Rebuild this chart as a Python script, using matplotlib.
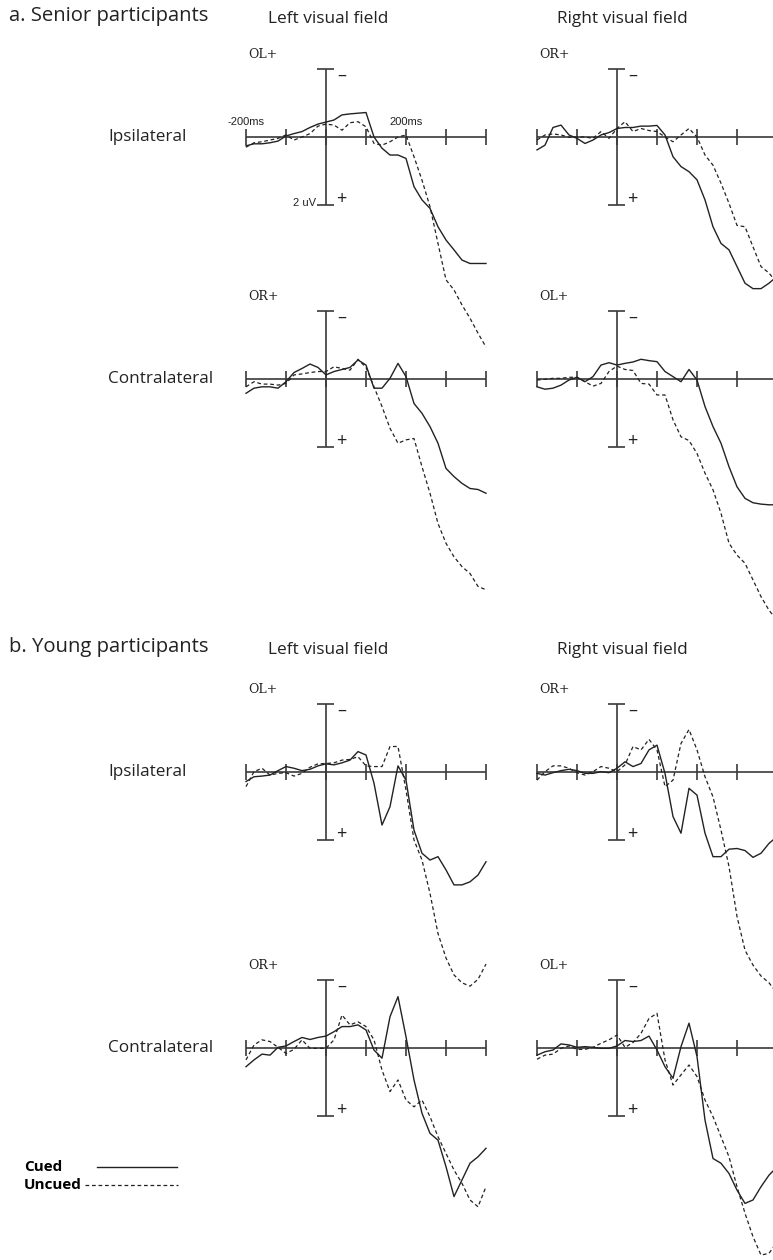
import numpy as np
import matplotlib
matplotlib.use("Agg")
import matplotlib.pyplot as plt
from matplotlib.lines import Line2D

#---- Data (µV, positive = downward, sampled every 20 ms) --------------------#

time_ms = np.arange(-200, 401, 20)
ticks_ms = [-200, -100, 0, 100, 200, 300, 400]

# Senior participants
sen_ipsi_left_cued = [0.26, 0.20, 0.20, 0.17, 0.12, -0.03, -0.10, -0.16, -0.28, -0.38, -0.44,
                      -0.50, -0.65, -0.68, -0.70, -0.72, 0.00, 0.33, 0.53, 0.53, 0.63,
                      1.46, 1.85, 2.10, 2.64, 3.03, 3.32, 3.62, 3.72, 3.72, 3.72]
sen_ipsi_left_uncued = [0.30, 0.17, 0.14, 0.09, 0.04, -0.06, 0.09, 0.00, -0.10, -0.32, -0.38,
                        -0.35, -0.20, -0.42, -0.45, -0.30, 0.19, 0.24, 0.14, 0.00, -0.06,
                        0.58, 1.27, 2.05, 3.13, 4.20, 4.50, 4.94, 5.33, 5.77, 6.18]
sen_ipsi_right_cued = [0.38, 0.24, -0.28, -0.35, -0.06, 0.04, 0.19, 0.09, -0.06, -0.13, -0.25,
                       -0.28, -0.28, -0.32, -0.32, -0.34, -0.06, 0.58, 0.87, 1.02, 1.26,
                       1.85, 2.64, 3.13, 3.32, 3.81, 4.30, 4.46, 4.46, 4.30, 4.10]
sen_ipsi_right_uncued = [0.09, -0.06, -0.09, -0.06, 0.01, 0.00, 0.00, 0.04, -0.16, 0.04, -0.25,
                         -0.45, -0.16, -0.25, -0.19, -0.16, 0.00, 0.14, -0.06, -0.25, 0.00,
                         0.53, 0.83, 1.36, 1.95, 2.60, 2.64, 3.23, 3.81, 4.00, 4.30]
sen_contra_left_cued = [0.42, 0.27, 0.23, 0.23, 0.27, 0.08, -0.19, -0.31, -0.44, -0.34, -0.12,
                        -0.22, -0.28, -0.34, -0.56, -0.41, 0.27, 0.27, -0.02, -0.46, -0.07,
                        0.72, 1.01, 1.40, 1.89, 2.63, 2.87, 3.07, 3.22, 3.25, 3.36]
sen_contra_left_uncued = [0.23, 0.08, 0.15, 0.15, 0.18, 0.13, -0.12, -0.15, -0.19, -0.22, -0.22,
                          -0.36, -0.31, -0.26, -0.58, -0.34, 0.23, 0.81, 1.45, 1.89, 1.79,
                          1.75, 2.58, 3.36, 4.25, 4.83, 5.23, 5.52, 5.72, 6.10, 6.20]
sen_contra_right_cued = [0.23, 0.30, 0.27, 0.18, 0.03, -0.05, 0.08, -0.07, -0.41, -0.48, -0.41,
                         -0.46, -0.50, -0.58, -0.54, -0.51, -0.22, -0.07, 0.08, -0.28, 0.03,
                         0.81, 1.40, 1.89, 2.58, 3.17, 3.51, 3.64, 3.68, 3.70, 3.70]
sen_contra_right_uncued = [0.03, 0.01, -0.02, -0.02, -0.05, -0.05, 0.08, 0.21, 0.13, -0.22, -0.38,
                           -0.28, -0.25, 0.13, 0.15, 0.47, 0.47, 1.20, 1.70, 1.81, 2.19,
                           2.77, 3.26, 3.95, 4.83, 5.18, 5.42, 5.91, 6.40, 6.80, 7.10]

# Young participants
yng_ipsi_left_cued = [0.28, 0.14, 0.12, 0.09, -0.04, -0.16, -0.11, -0.04, -0.08, -0.18, -0.24,
                      -0.21, -0.27, -0.35, -0.60, -0.50, 0.33, 1.56, 1.02, -0.18, 0.24,
                      1.71, 2.39, 2.59, 2.49, 2.88, 3.32, 3.32, 3.23, 3.03, 2.64]
yng_ipsi_left_uncued = [0.43, -0.01, -0.11, 0.09, 0.04, 0.02, 0.12, 0.04, -0.14, -0.24, -0.25,
                        -0.27, -0.35, -0.37, -0.45, -0.18, -0.16, -0.16, -0.75, -0.75, 0.53,
                        2.00, 2.59, 3.57, 4.75, 5.47, 5.97, 6.20, 6.30, 6.10, 5.65]
yng_ipsi_right_cued = [0.04, 0.09, 0.02, -0.04, -0.08, -0.04, 0.04, 0.04, -0.01, 0.02, -0.11,
                       -0.30, -0.16, -0.25, -0.65, -0.79, 0.04, 1.31, 1.80, 0.48, 0.68,
                       1.80, 2.49, 2.49, 2.27, 2.25, 2.31, 2.51, 2.39, 2.10, 1.90]
yng_ipsi_right_uncued = [0.24, -0.01, -0.18, -0.18, -0.11, 0.02, 0.09, -0.01, -0.16, -0.11, -0.01,
                         -0.21, -0.75, -0.65, -0.96, -0.65, 0.43, 0.24, -0.84, -1.25, -0.65,
                         0.14, 0.73, 1.71, 2.78, 4.25, 5.24, 5.68, 6.00, 6.20, 6.50]
yng_contra_left_cued = [0.55, 0.35, 0.18, 0.21, -0.02, -0.06, -0.19, -0.31, -0.25, -0.31, -0.35,
                        -0.48, -0.63, -0.63, -0.68, -0.53, 0.06, 0.30, -0.92, -1.51, -0.33,
                        0.94, 1.92, 2.51, 2.71, 3.49, 4.37, 3.88, 3.39, 3.20, 2.95]
yng_contra_left_uncued = [0.35, -0.09, -0.24, -0.19, -0.02, 0.16, 0.04, -0.24, 0.01, 0.01, 0.01,
                          -0.24, -0.97, -0.68, -0.77, -0.63, -0.24, 0.65, 1.28, 0.94, 1.53,
                          1.73, 1.53, 2.02, 2.61, 3.10, 3.59, 3.98, 4.47, 4.67, 4.08]
yng_contra_right_cued = [0.21, 0.11, 0.06, -0.12, -0.09, -0.02, -0.04, -0.02, 0.01, 0.01, -0.06,
                         -0.22, -0.19, -0.22, -0.35, 0.06, 0.55, 0.89, -0.04, -0.73, 0.25,
                         2.12, 3.25, 3.39, 3.69, 4.18, 4.57, 4.47, 4.08, 3.74, 3.50]
yng_contra_right_uncued = [0.33, 0.21, 0.18, 0.01, -0.06, 0.04, 0.04, -0.02, -0.14, -0.24, -0.38,
                           -0.02, -0.16, -0.43, -0.87, -1.02, 0.35, 1.09, 0.79, 0.50, 0.84,
                           1.53, 2.02, 2.61, 3.20, 4.08, 4.86, 5.55, 6.09, 6.04, 5.70]

#---- Layout (pixels of the 773x1260 canvas) ---------------------------------#

W, H = 773, 1260
PX_MS = 0.4                 # 40 px per 100 ms
PX_UV = 34                  # 34 px per microvolt
XLIM = (-215, 415)
YLIM = (8.0, -3.2)          # positive voltage drawn downward
INK = '#222222'
AXC = '#3a3a3a'
SANS = ['Open Sans', 'DejaVu Sans']

fig = plt.figure(figsize=(W / 100, H / 100), dpi=100)


def panel_axes(x0, y0):
    """Axes whose time zero sits at pixel x0 and baseline at pixel y0."""
    left = x0 + XLIM[0] * PX_MS
    width = (XLIM[1] - XLIM[0]) * PX_MS
    top = y0 + YLIM[1] * PX_UV
    height = (YLIM[0] - YLIM[1]) * PX_UV
    ax = fig.add_axes([left / W, 1 - (top + height) / H, width / W, height / H])
    ax.set_xlim(*XLIM)
    ax.set_ylim(*YLIM)
    ax.axis('off')
    ax.patch.set_alpha(0)
    return ax


def draw_panel(ax, cued, uncued, label, first=False):
    ax.hlines(0, ticks_ms[0], ticks_ms[-1], color=AXC, lw=1.2)
    ax.vlines(ticks_ms, -0.24, 0.24, color=AXC, lw=1.2)
    ax.vlines(0, -2, 2, color=AXC, lw=1.2)
    ax.hlines([-2, 2], -22, 20, color=AXC, lw=1.2)
    ax.text(27, -1.8, '\u2013', fontsize=13, ha='left', va='center',
            family=SANS, color=INK)
    ax.text(25, 1.82, '+', fontsize=13, ha='left', va='center',
            family=SANS, color=INK)
    ax.text(-194, -2.42, label, fontsize=9, ha='left', va='center',
            family='DejaVu Serif', color=INK)
    if first:
        ax.text(-200, -0.45, '-200ms', fontsize=8, ha='center', va='center',
                family='Liberation Sans', color=INK)
        ax.text(200, -0.45, '200ms', fontsize=8, ha='center', va='center',
                family='Liberation Sans', color=INK)
        ax.text(-26, 1.94, '2 uV', fontsize=8, ha='right', va='center',
                family='Liberation Sans', color=INK)
    ax.plot(time_ms, cued, color=INK, lw=1.0, solid_joinstyle='round')
    ax.plot(time_ms, uncued, color=INK, lw=0.9, ls=(0, (3, 2.2)))


LEFT_X, RIGHT_X = 326, 617
rows = [
    (137, 'Ipsilateral', ('OL+', sen_ipsi_left_cued, sen_ipsi_left_uncued),
     ('OR+', sen_ipsi_right_cued, sen_ipsi_right_uncued)),
    (379, 'Contralateral', ('OR+', sen_contra_left_cued, sen_contra_left_uncued),
     ('OL+', sen_contra_right_cued, sen_contra_right_uncued)),
    (772, 'Ipsilateral', ('OL+', yng_ipsi_left_cued, yng_ipsi_left_uncued),
     ('OR+', yng_ipsi_right_cued, yng_ipsi_right_uncued)),
    (1048, 'Contralateral', ('OR+', yng_contra_left_cued, yng_contra_left_uncued),
     ('OL+', yng_contra_right_cued, yng_contra_right_uncued)),
]

for i, (y0, row_name, lp, rp) in enumerate(rows):
    axl = panel_axes(LEFT_X, y0)
    draw_panel(axl, lp[1], lp[2], lp[0], first=(i == 0))
    axr = panel_axes(RIGHT_X, y0)
    draw_panel(axr, rp[1], rp[2], rp[0])
    fig.text(108 / W, 1 - y0 / H, row_name, fontsize=12.3, ha='left', va='center',
             family=SANS, color=INK)

#---- Headings ---------------------------------------------------------------#

for y_head, y_field, title in [(16, 19, 'a. Senior participants'),
                               (647, 650, 'b. Young participants')]:
    fig.text(9 / W, 1 - y_head / H, title, fontsize=14.6, ha='left', va='center',
             family=SANS, color=INK)
    fig.text(268 / W, 1 - y_field / H, 'Left visual field', fontsize=12.4,
             ha='left', va='center', family=SANS, color=INK)
    fig.text(557 / W, 1 - y_field / H, 'Right visual field', fontsize=12.4,
             ha='left', va='center', family=SANS, color=INK)

#---- Legend -----------------------------------------------------------------#

fig.text(24 / W, 1 - 1167 / H, 'Cued', fontsize=11, fontweight='bold',
         ha='left', va='center', family=SANS, color='black')
fig.text(24 / W, 1 - 1185 / H, 'Uncued', fontsize=11, fontweight='bold',
         ha='left', va='center', family=SANS, color='black')
fig.add_artist(Line2D([97 / W, 177 / W], [1 - 1167 / H] * 2, color=INK, lw=1.0))
fig.add_artist(Line2D([85 / W, 178 / W], [1 - 1185 / H] * 2, color=INK, lw=0.9,
                      ls=(0, (3, 2.2))))

fig.savefig('out.png', dpi=100, facecolor='white')
